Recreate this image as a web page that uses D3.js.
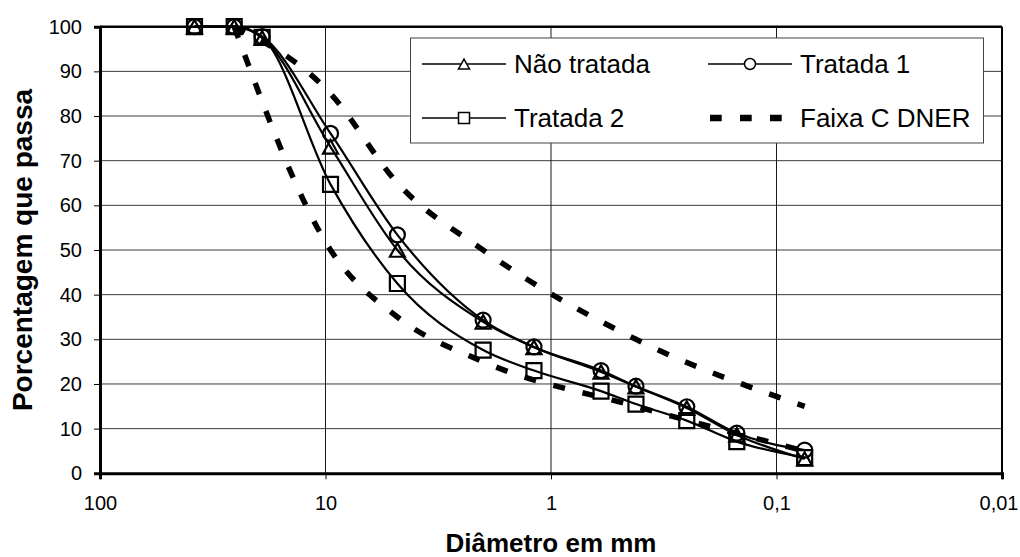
<!DOCTYPE html>
<html>
<head>
<meta charset="utf-8">
<script src="https://cdn.jsdelivr.net/npm/d3@7/dist/d3.min.js"></script>
<style>
  html, body { margin: 0; padding: 0; background: #fff; }
  svg { display: block; font-family: "Liberation Sans", Arial, sans-serif; }
</style>
</head>
<body>
<svg id="chart" width="1020" height="557"></svg>
<script>
// Peneiras (mm) e porcentagem passante de cada amostra
const sieves     = [38.1, 25.4, 19.1, 9.5, 4.8, 2.0, 1.19, 0.6, 0.42, 0.25, 0.15, 0.075];
const naoTratada = [100, 100, 97.5, 73.1, 50.0, 33.9, 28.2, 22.7, 19.4, 14.6, 8.6, 3.2];
const tratada1   = [100, 100, 97.8, 76.1, 53.4, 34.3, 28.3, 23.0, 19.5, 14.9, 9.0, 5.2];
const tratada2   = [100, 100, 97.6, 64.7, 42.5, 27.6, 23.0, 18.4, 15.5, 11.8, 7.1, 3.5];

// Limites da faixa granulométrica C (DNER)
const faixaSieves = [25.4, 9.5, 4.8, 2.0, 0.42, 0.075];
const faixaSup    = [100, 85, 65, 50, 30, 15];
const faixaInf    = [100, 50, 35, 25, 15, 5];

// Eixos
const xTicks      = [100, 10, 1, 0.1, 0.01];
const xTickLabels = ["100", "10", "1", "0,1", "0,01"];
const yTicks      = [0, 10, 20, 30, 40, 50, 60, 70, 80, 90, 100];
const yTickLabels = ["0", "10", "20", "30", "40", "50", "60", "70", "80", "90", "100"];

const legendLabels = ["Não tratada", "Tratada 1", "Tratada 2", "Faixa C DNER"];

const W = 1020;
const svg = d3.select("#chart");
const plot = { left: 100, right: 1002, top: 26.7, bottom: 473.3 };

const x = d3.scaleLog().domain([100, 0.01]).range([plot.left, plot.right]);
const y = d3.scaleLinear().domain([0, 100]).range([plot.bottom, plot.top]);

// Grade
const grid = svg.append("g");
grid.selectAll("line.h").data(yTicks.filter(v => v > 0 && v < 100)).join("line")
  .attr("x1", plot.left).attr("x2", plot.right)
  .attr("y1", d => y(d)).attr("y2", d => y(d))
  .attr("stroke", "#3a3a3a").attr("stroke-width", 1);
grid.selectAll("line.v").data(xTicks.filter(v => v < 100 && v > 0.01)).join("line")
  .attr("x1", d => x(d)).attr("x2", d => x(d))
  .attr("y1", plot.top).attr("y2", plot.bottom)
  .attr("stroke", "#1a1a1a").attr("stroke-width", 1);

// Moldura da área de plotagem
svg.append("line").attr("x1", plot.left).attr("x2", plot.right)
  .attr("y1", plot.top).attr("y2", plot.top).attr("stroke", "#000").attr("stroke-width", 2.5);
svg.append("line").attr("x1", plot.right).attr("x2", plot.right)
  .attr("y1", plot.top).attr("y2", plot.bottom).attr("stroke", "#000").attr("stroke-width", 2);

// Eixo X
const xAxis = d3.axisBottom(x).tickValues(xTicks)
  .tickFormat((d, i) => xTickLabels[i]).tickSize(6).tickPadding(17);
const gx = svg.append("g").attr("transform", `translate(0,${plot.bottom})`).call(xAxis);
gx.select(".domain").attr("stroke", "#000").attr("stroke-width", 3);
gx.selectAll(".tick line").attr("stroke", "#000").attr("stroke-width", 1);
gx.selectAll(".tick text").attr("font-size", 20).attr("fill", "#000")
  .attr("font-family", "Liberation Sans, Arial, sans-serif");
// o último rótulo encosta na borda direita: alinhar pelo fim
gx.selectAll(".tick text").filter(d => x(d) > W - 30)
  .attr("text-anchor", "end").attr("x", d => (W - 2) - x(d));

// Eixo Y
const yAxis = d3.axisLeft(y).tickValues(yTicks)
  .tickFormat((d, i) => yTickLabels[i]).tickSize(6).tickPadding(12);
const gy = svg.append("g").attr("transform", `translate(${plot.left},0)`).call(yAxis);
gy.select(".domain").attr("stroke", "#000").attr("stroke-width", 3);
gy.selectAll(".tick line").attr("stroke", "#000").attr("stroke-width", 1);
gy.selectAll(".tick text").attr("font-size", 20).attr("fill", "#000")
  .attr("font-family", "Liberation Sans, Arial, sans-serif");

// Títulos dos eixos
svg.append("text")
  .attr("x", (plot.left + plot.right) / 2).attr("y", 552)
  .attr("text-anchor", "middle").attr("font-weight", "bold").attr("font-size", 26)
  .text("Diâmetro em mm");
svg.append("text")
  .attr("transform", `translate(32,${(plot.top + plot.bottom) / 2}) rotate(-90)`)
  .attr("text-anchor", "middle").attr("font-weight", "bold").attr("font-size", 28)
  .text("Porcentagem que passa");

// Curvas suavizadas sem ultrapassar os pontos
const line = d3.line().x(d => x(d[0])).y(d => y(d[1])).curve(d3.curveMonotoneX);
const pairs = (xs, ys) => xs.map((v, i) => [v, ys[i]]);

const faixaG = svg.append("g");
[faixaSup, faixaInf].forEach(vals => {
  faixaG.append("path")
    .attr("d", line(pairs(faixaSieves, vals)))
    .attr("fill", "none").attr("stroke", "#000")
    .attr("stroke-width", 5.5).attr("stroke-dasharray", "12,18");
});

// Marcadores
function markerPath(type, h) {
  const p = d3.path();
  if (type === "triangle") {
    p.moveTo(0, -h * 0.9); p.lineTo(h, h * 0.9); p.lineTo(-h, h * 0.9); p.closePath();
  } else if (type === "square") {
    p.rect(-h, -h, 2 * h, 2 * h);
  } else {
    p.arc(0, 0, h, 0, 2 * Math.PI); p.closePath();
  }
  return p.toString();
}

const series = [
  { name: legendLabels[0], values: naoTratada, marker: "triangle" },
  { name: legendLabels[1], values: tratada1,   marker: "circle" },
  { name: legendLabels[2], values: tratada2,   marker: "square" }
];

series.forEach(s => {
  const g = svg.append("g");
  const pts = pairs(sieves, s.values);
  g.append("path").attr("d", line(pts))
    .attr("fill", "none").attr("stroke", "#000").attr("stroke-width", 2.2);
  g.selectAll("path.m").data(pts).join("path")
    .attr("transform", d => `translate(${x(d[0])},${y(d[1])})`)
    .attr("d", markerPath(s.marker, 7.5))
    .attr("fill", "none").attr("stroke", "#000").attr("stroke-width", 2.2);
});

// Legenda
const lg = svg.append("g");
lg.append("rect").attr("x", 410.5).attr("y", 38).attr("width", 573).attr("height", 105)
  .attr("fill", "#fff").attr("stroke", "#444").attr("stroke-width", 1);

const legendItems = [
  { label: legendLabels[0], marker: "triangle", cx: 422, row: 64 },
  { label: legendLabels[1], marker: "circle",   cx: 708, row: 64 },
  { label: legendLabels[2], marker: "square",   cx: 422, row: 118 },
  { label: legendLabels[3], marker: null,       cx: 708, row: 118 }
];

legendItems.forEach(it => {
  const g = lg.append("g").attr("transform", `translate(${it.cx},${it.row})`);
  if (it.marker) {
    g.append("line").attr("x1", 0).attr("x2", 84).attr("y1", 0).attr("y2", 0)
      .attr("stroke", "#000").attr("stroke-width", 1.5);
    g.append("path").attr("transform", "translate(42,0)")
      .attr("d", markerPath(it.marker, 5.5))
      .attr("fill", "#fff").attr("stroke", "#000").attr("stroke-width", 1.5);
  } else {
    g.append("line").attr("x1", 2).attr("x2", 74).attr("y1", 0).attr("y2", 0)
      .attr("stroke", "#000").attr("stroke-width", 6.5).attr("stroke-dasharray", "11.7,18.3");
  }
  g.append("text").attr("x", 92).attr("y", 9)
    .attr("font-size", 26).attr("fill", "#000").text(it.label);
});
</script>
</body>
</html>
